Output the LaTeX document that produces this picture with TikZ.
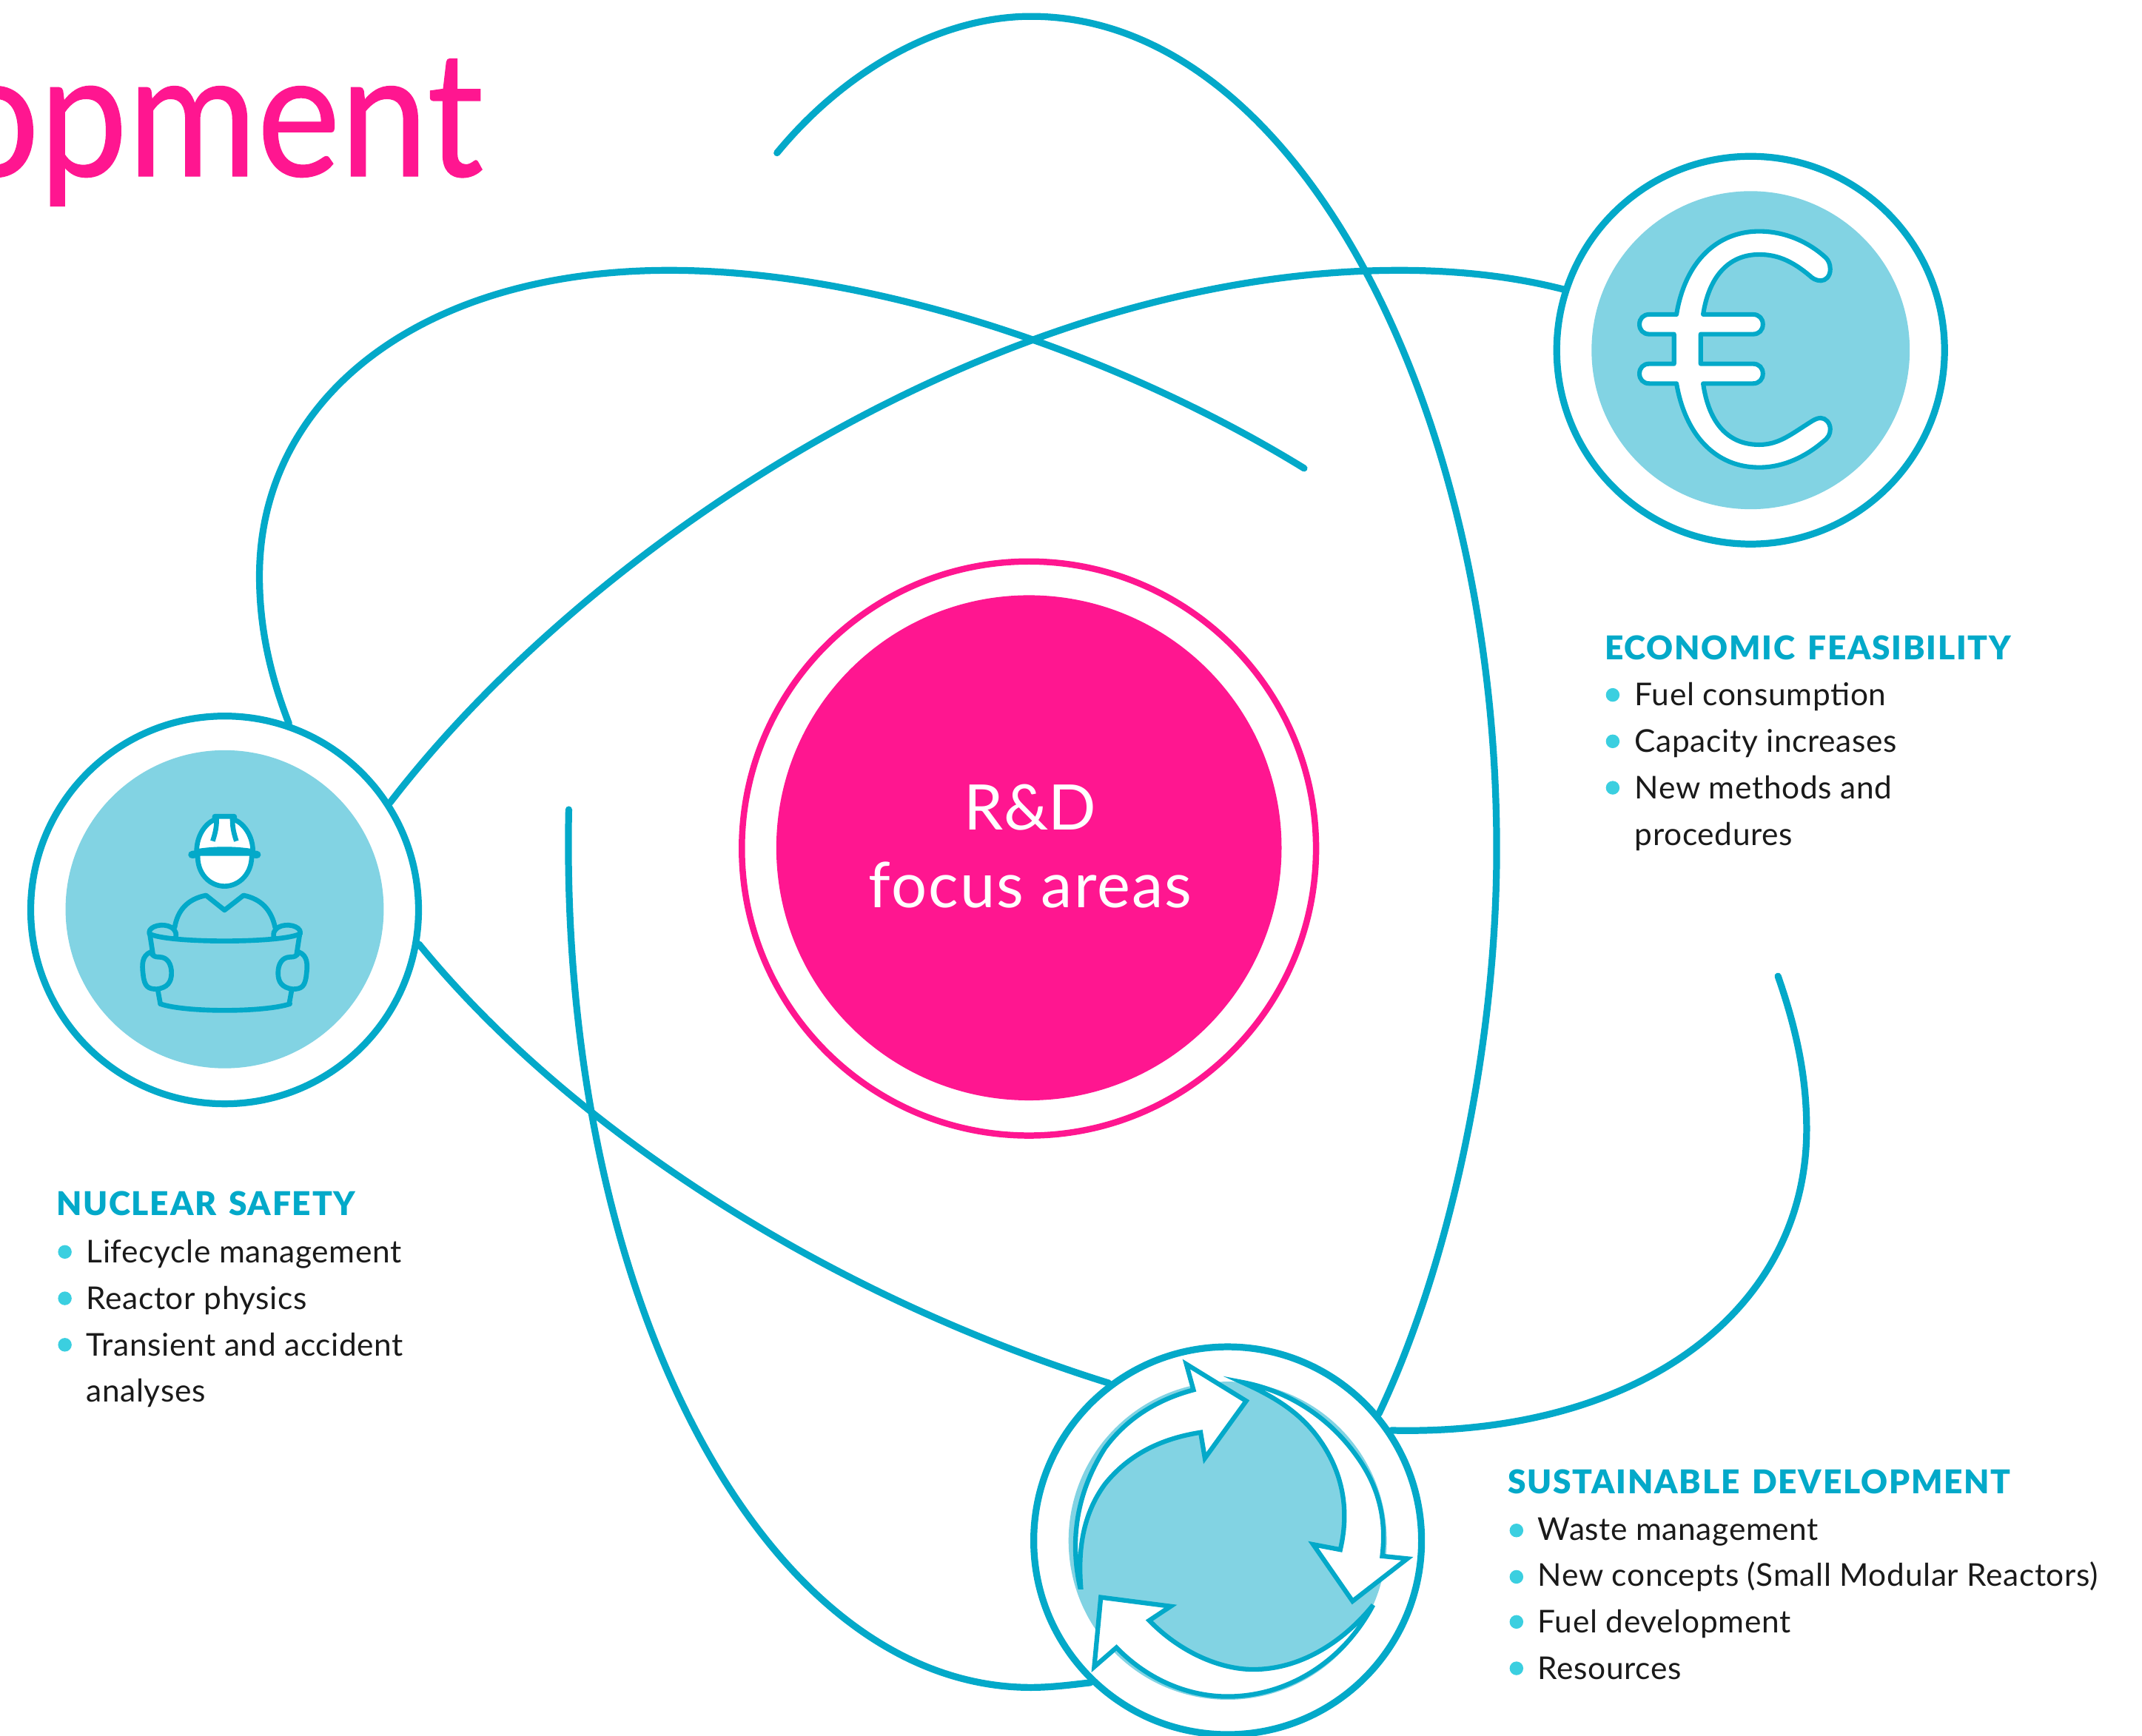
\documentclass[tikz,border=0pt]{standalone}
\usepackage{fontspec}
\setmainfont{Lato}
\definecolor{teal1}{HTML}{03A9C9}
\definecolor{light1}{HTML}{82D3E3}
\definecolor{pink1}{HTML}{FF1690}
\definecolor{dot1}{HTML}{3BCFE0}
\definecolor{ink1}{HTML}{1A1A1A}
\newfontfamily\titlefont[FakeStretch=0.9,FakeBold=0.6]{Lato}
\newfontfamily\itemfont[LetterSpace=1.5]{Lato}
\newfontfamily\headfont[LetterSpace=4,WordSpace=1.4,BoldFont={Lato Black}]{Lato}
\newfontfamily\corefont[LetterSpace=2.4]{Lato}
\tikzset{
  orbit/.style={draw=teal1,line width=5pt,line cap=round,fill=none},
  ring/.style={circle,draw=teal1,fill=white,line width=5pt,minimum size=284pt,inner sep=0pt},
  disc/.style={circle,fill=light1,minimum size=233pt,inner sep=0pt},
  heading/.style={anchor=base west,inner sep=0pt,text=teal1,font=\fontsize{24}{24}\headfont\bfseries},
  item/.style={anchor=base west,inner sep=0pt,text=ink1,font=\fontsize{23}{23}\itemfont},
  bul/.style={circle,fill=dot1,minimum size=10pt,inner sep=0pt},
  icon/.style={draw=teal1,line width=3.6pt,line join=round,line cap=round},
  arrowicon/.style={draw=teal1,line width=3.4pt,fill=white,line join=miter},
}
\begin{document}
\begin{tikzpicture}[x=1pt,y=-1pt]
\useasboundingbox (0,0) rectangle (1568.6,1271.5);
\clip (0,0) rectangle (1568.6,1271.5);
% title
\node[anchor=base east,inner sep=0pt,text=pink1,font=\fontsize{128}{128}\titlefont] (title) at (354,129) {opment};
% rings
\node[ring] (safety) at (164.5,666.5) {};
\node[ring] (econ) at (1282,256.5) {};
\node[ring] (sust) at (899,1128.5) {};
\node[disc] (safetyd) at (164.5,666) {};
\node[disc] (econd) at (1282,256.5) {};
\node[disc] (sustd) at (899,1128.5) {};
% centre
\node[circle,draw=pink1,fill=white,line width=4.6pt,minimum size=420.5pt,inner sep=0pt] (core) at (753.5,621.5) {};
\node[circle,fill=pink1,minimum size=370pt,inner sep=0pt] (cored) at (753.5,621) {};
\node[anchor=base,inner sep=0pt,text=white,font=\fontsize{46}{46}\selectfont] (rd) at (754.5,608) {R\&D};
\node[anchor=base,inner sep=0pt,text=white,font=\fontsize{46}{46}\corefont] (focus) at (754.5,665) {focus areas};
% free ends
\coordinate (o1s) at (569,112);
\coordinate (o2s) at (955,343);
\coordinate (o5s) at (416.5,593);
\coordinate (o6s) at (1302,715);
% orbits
\draw[orbit] (o1s) .. controls (620,50) and (690,12) .. (755,12) .. controls (950,12) and (1096,300) .. (1096,622) .. controls (1096,770) and (1060,930) .. (sust.40);
\draw[orbit] (o2s) .. controls (820,260) and (640,198) .. (490,198) .. controls (310,198) and (190,290) .. (190,422) .. controls (190,460) and (198,495) .. (safety.71);
\draw[orbit] (safety.33) .. controls (430,400) and (730,198) .. (1025,198) .. controls (1070,198) and (1110,203) .. (econ.162);
\draw[orbit] (safety.-10) .. controls (420,830) and (610,950) .. (sust.127);
\draw[orbit] (o5s) .. controls (409,950) and (560,1236) .. (755,1236) .. controls (770,1236) and (785,1234) .. (sust.226);
\draw[orbit] (o6s) .. controls (1316,755) and (1323,790) .. (1323,827) .. controls (1323,960) and (1200,1052) .. (sust.34);
% euro
\begin{scope}[shift={(1149.1,119.2)},x=0.1807pt,y=-0.1807pt]
\draw[icon,fill=white,line width=3.3pt] (435,615) .. controls (470,400) and (600,278) .. (770,278) .. controls (880,278) and (975,325) .. (1040,385)
 .. controls (1050,395) and (1058,410) .. (1058,432) .. controls (1058,460) and (1040,478) .. (1020,478) .. controls (1000,478) and (985,468) .. (975,458)
 .. controls (900,395) and (840,372) .. (770,372) .. controls (640,372) and (565,470) .. (543,615) -- (745,615)
 .. controls (770,615) and (785,632) .. (785,655) .. controls (785,678) and (770,695) .. (745,695) -- (533,695) -- (533,815) -- (745,815)
 .. controls (770,815) and (785,832) .. (785,855) .. controls (785,878) and (770,895) .. (745,895) -- (543,895)
 .. controls (565,1050) and (640,1143) .. (770,1143) .. controls (850,1143) and (900,1100) .. (980,1050)
 .. controls (1000,1037) and (1010,1035) .. (1020,1035) .. controls (1040,1035) and (1058,1055) .. (1058,1080)
 .. controls (1058,1100) and (1050,1115) .. (1030,1130) .. controls (960,1190) and (870,1235) .. (770,1235)
 .. controls (590,1235) and (470,1100) .. (435,895) -- (325,895) .. controls (300,895) and (285,878) .. (285,855)
 .. controls (285,832) and (300,815) .. (325,815) -- (425,815) -- (425,695) -- (325,695)
 .. controls (300,695) and (285,678) .. (285,655) .. controls (285,632) and (300,615) .. (325,615) -- cycle;
\end{scope}
% worker
\begin{scope}[shift={(81.3,574.5)},x=0.1807pt,y=-0.1807pt]
\draw[icon,fill=white] (352,280) .. controls (345,360) and (400,413) .. (460,413) .. controls (520,413) and (575,360) .. (570,280) -- cycle;
\draw[icon,fill=white] (347,272) .. controls (347,210) and (380,160) .. (420,143) -- (420,130) -- (500,130) -- (500,143) .. controls (540,160) and (575,210) .. (575,272) .. controls (500,260) and (420,260) .. (347,272) -- cycle;
\draw[icon,line width=5.5pt] (328,285) -- (345,283) (592,285) -- (575,283);
\draw[icon,line cap=butt] (412,230) .. controls (425,190) and (428,170) .. (428,135) (508,230) .. controls (495,190) and (492,170) .. (492,135);
\draw[icon] (258,580) .. controls (270,510) and (310,465) .. (385,450) -- (460,510) -- (537,450) .. controls (610,465) and (650,510) .. (665,580);
\draw[icon] (155,605) .. controls (220,645) and (700,645) .. (767,605);
\draw[icon] (200,890) .. controls (300,925) and (620,925) .. (725,890);
\draw[icon] (155,600) .. controls (155,575) and (210,560) .. (245,580) .. controls (265,595) and (265,605) .. (262,622);
\draw[icon] (157,605) -- (170,690) (190,835) -- (200,890);
\draw[icon] (160,680) .. controls (125,695) and (125,730) .. (130,770) .. controls (135,820) and (150,830) .. (185,830) .. controls (230,825) and (245,800) .. (245,765) .. controls (245,730) and (230,700) .. (195,700) .. controls (180,700) and (170,698) .. (160,680);
\begin{scope}[shift={(922,0)},xscale=-1]
\draw[icon] (155,600) .. controls (155,575) and (210,560) .. (245,580) .. controls (265,595) and (265,605) .. (262,622);
\draw[icon] (157,605) -- (170,690) (190,835) -- (200,890);
\draw[icon] (160,680) .. controls (125,695) and (125,730) .. (130,770) .. controls (135,820) and (150,830) .. (185,830) .. controls (230,825) and (245,800) .. (245,765) .. controls (245,730) and (230,700) .. (195,700) .. controls (180,700) and (170,698) .. (160,680);
\end{scope}
\end{scope}
% recycle arrows
\begin{scope}[shift={(746.6,975.6)},x=0.2088pt,y=-0.1887pt]
\draw[arrowicon] (212,990) .. controls (180,830) and (190,640) .. (300,450) .. controls (380,330) and (490,260) .. (610,225) -- (585,125) -- (795,268) -- (650,490) -- (635,390)
 .. controls (490,415) and (380,480) .. (300,590) .. controls (220,710) and (205,850) .. (215,990) -- cycle;
\draw[arrowicon] (780,195) .. controls (950,230) and (1100,340) .. (1200,510) .. controls (1270,630) and (1285,750) .. (1272,870) -- (1360,880) -- (1168,1045) -- (1030,825) -- (1125,845)
 .. controls (1160,680) and (1130,530) .. (1040,400) .. controls (970,300) and (880,245) .. (780,195) -- cycle;
\draw[arrowicon] (1240,1060) .. controls (1130,1290) and (930,1415) .. (730,1415) .. controls (580,1415) and (440,1340) .. (340,1225) -- (262,1300) -- (285,1030) -- (530,1065) -- (455,1120)
 .. controls (560,1240) and (700,1310) .. (820,1310) .. controls (980,1310) and (1130,1210) .. (1240,1060) -- cycle;
\end{scope}
% texts
\node[heading] (h1) at (1175,483) {ECONOMIC FEASIBILITY};
\node[bul] (e1b) at (1181,509) {}; \node[item] (e1) at (1197,517) {Fuel consumption};
\node[bul] (e2b) at (1181,543) {}; \node[item] (e2) at (1197,551) {Capacity increases};
\node[bul] (e3b) at (1181,577) {}; \node[item] (e3) at (1197,585) {New methods and};
\node[item] (e4) at (1197,619) {procedures};
\node[heading] (h2) at (41,890) {NUCLEAR SAFETY};
\node[bul] (n1b) at (47.5,917) {}; \node[item] (n1) at (63,925) {Lifecycle management};
\node[bul] (n2b) at (47.5,951) {}; \node[item] (n2) at (63,959) {Reactor physics};
\node[bul] (n3b) at (47.5,985) {}; \node[item] (n3) at (63,993) {Transient and accident};
\node[item] (n4) at (63,1027) {analyses};
\node[heading] (h3) at (1104,1094) {SUSTAINABLE DEVELOPMENT};
\node[bul] (s1b) at (1110.5,1121) {}; \node[item] (s1) at (1126,1128) {Waste management};
\node[bul] (s2b) at (1110.5,1155) {}; \node[item] (s2) at (1126,1162) {New concepts (Small Modular Reactors)};
\node[bul] (s3b) at (1110.5,1188) {}; \node[item] (s3) at (1126,1196) {Fuel development};
\node[bul] (s4b) at (1110.5,1222) {}; \node[item] (s4) at (1126,1230) {Resources};
\end{tikzpicture}
\end{document}
